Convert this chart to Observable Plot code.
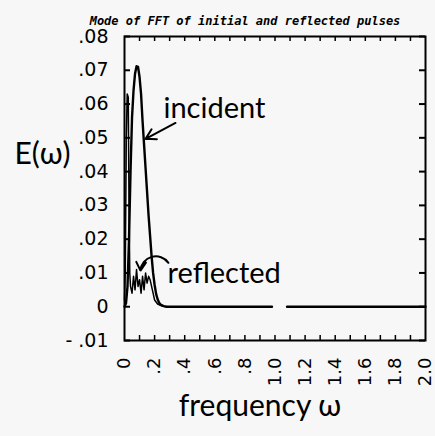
<!DOCTYPE html>
<html><head><meta charset="utf-8">
<script src="https://cdn.jsdelivr.net/npm/d3@7"></script>
<script src="https://cdn.jsdelivr.net/npm/@observablehq/plot@0.6"></script>
<style>html,body{margin:0;padding:0;background:#f6f7f6} svg{display:block}</style>
</head><body><div id="chart"></div>
<script>
// ---- data ----
const titleText = "Mode of FFT of initial and reflected pulses";
const xLabel = "frequency ω";
const yLabel = "E(ω)";

const incidentOmega = [0, 0.01, 0.02, 0.03, 0.04, 0.05, 0.06, 0.07, 0.08, 0.09, 0.10, 0.11, 0.12, 0.13, 0.14, 0.15, 0.16, 0.17, 0.18, 0.19, 0.20, 0.21, 0.22, 0.23, 0.24, 0.26, 0.28, 0.40, 0.60, 0.80, 0.98, 1.03, 1.08, 1.30, 1.50, 1.70, 1.90, 2.00];
const incidentE     = [0, 0.001, 0.006, 0.020, 0.040, 0.056, 0.064, 0.069, 0.0712, 0.0710, 0.068, 0.063, 0.055, 0.048, 0.041, 0.034, 0.027, 0.021, 0.015, 0.010, 0.0065, 0.0038, 0.0022, 0.0012, 0.0006, 0.0002, 0, 0, 0, 0, 0, NaN, 0, 0, 0, 0, 0, 0];

const reflectedOmega = [0, 0.005, 0.012, 0.018, 0.025, 0.030, 0.035, 0.04, 0.05, 0.06, 0.07, 0.08, 0.09, 0.10, 0.11, 0.12, 0.13, 0.14, 0.15, 0.16, 0.17, 0.18, 0.19, 0.20, 0.22, 0.25, 0.28];
const reflectedE     = [0.002, 0.010, 0.050, 0.063, 0.062, 0.030, 0.010, 0.006, 0.004, 0.009, 0.005, 0.011, 0.006, 0.008, 0.004, 0.009, 0.005, 0.010, 0.007, 0.009, 0.008, 0.006, 0.004, 0.002, 0.0008, 0.0002, 0];

const xTicks = [0, 0.2, 0.4, 0.6, 0.8, 1.0, 1.2, 1.4, 1.6, 1.8, 2.0];
const xTickLabels = ["0", ".2", ".4", ".6", ".8", "1.0", "1.2", "1.4", "1.6", "1.8", "2.0"];
const xMinorTicks = d3.range(1, 20).map(i => i / 10);
const yTicks = [-0.01, 0, 0.01, 0.02, 0.03, 0.04, 0.05, 0.06, 0.07, 0.08];
const yTickLabels = ["- .01", "0", ".01", ".02", ".03", ".04", ".05", ".06", ".07", ".08"];

const noteLabels = ["incident", "reflected"];
const noteX = [0.259, 0.286];
const noteY = [0.0586, 0.0098];
const incidentArrow = {x1: 0.339, y1: 0.0544, x2: 0.140, y2: 0.0497};
const reflectedArrow = {x1: 0.292, y1: 0.0130, x2: 0.106, y2: 0.0107};

// ---- build tables ----
const incident = incidentOmega.map((w, i) => ({w, e: incidentE[i]}));
const reflected = reflectedOmega.map((w, i) => ({w, e: reflectedE[i]}));
const notes = noteLabels.map((t, i) => ({t, x: noteX[i], y: noteY[i]}));
const near = (arr, d) => arr.findIndex(t => Math.abs(t - d) < 1e-9);

const hand = "Lato, 'Open Sans', sans-serif";
const arrowOpts = {x1: "x1", y1: "y1", x2: "x2", y2: "y2", stroke: "black", strokeWidth: 2, headLength: 10};

const chart = Plot.plot({
  width: 435, height: 436,
  marginLeft: 124, marginRight: 10, marginTop: 36, marginBottom: 96,
  style: {background: "#f6f7f6", fontFamily: "DejaVu Sans", color: "black"},
  x: {domain: [0, 2]},
  y: {domain: [-0.01, 0.08]},
  marks: [
    Plot.frame({stroke: "black", strokeWidth: 2}),
    Plot.tickX(xMinorTicks, {x: d => d, insetBottom: 299, stroke: "black", strokeWidth: 1.5}),
    Plot.tickX(xMinorTicks, {x: d => d, insetTop: 299, stroke: "black", strokeWidth: 1.5}),
    Plot.tickY(yTicks, {y: d => d, insetRight: 295, stroke: "black", strokeWidth: 2}),
    Plot.tickY(yTicks, {y: d => d, insetLeft: 295, stroke: "black", strokeWidth: 2}),
    Plot.axisY({ticks: yTicks, tickSize: 0, tickPadding: 16, fontSize: 19, label: null,
      tickFormat: d => yTickLabels[near(yTicks, d)]}),
    Plot.axisX({ticks: xTicks, tickSize: 0, tickPadding: 17, tickRotate: -90, fontSize: 18, label: null,
      tickFormat: d => xTickLabels[near(xTicks, d)]}),
    Plot.line(reflected, {x: "w", y: "e", stroke: "black", strokeWidth: 1.5}),
    Plot.line(incident, {x: "w", y: "e", stroke: "black", strokeWidth: 2.4}),
    Plot.text(notes, {x: "x", y: "y", text: "t", textAnchor: "start", fontSize: 29, fontFamily: hand}),
    Plot.arrow([incidentArrow], arrowOpts),
    Plot.arrow([reflectedArrow], {...arrowOpts, bend: -70}),
    Plot.text([titleText], {text: d => d, frameAnchor: "top", dx: -30, dy: -20, fontSize: 12,
      fontWeight: "bold", fontStyle: "italic", fontFamily: "DejaVu Sans Mono"}),
    Plot.text([yLabel], {text: d => d, frameAnchor: "top-left", textAnchor: "middle", dx: -82, dy: 106, fontSize: 30, fontFamily: hand}),
    Plot.text([xLabel], {text: d => d, frameAnchor: "bottom", textAnchor: "middle", dx: -15, dy: 75, fontSize: 30, fontFamily: hand})
  ]
});
document.getElementById("chart").appendChild(chart);
</script>
</body></html>
